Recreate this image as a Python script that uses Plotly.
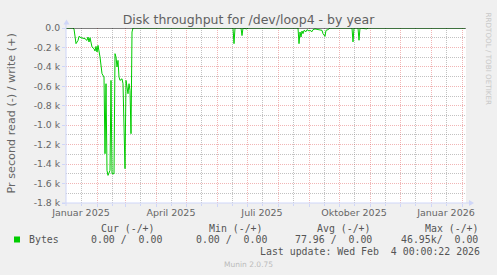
import plotly.graph_objects as go
import pandas as pd

# ---------------- data ----------------
read_dates = [
    "2025-01-01", "2025-01-08", "2025-01-09", "2025-01-11", "2025-01-13", "2025-01-14",
    "2025-01-16", "2025-01-18", "2025-01-20", "2025-01-22", "2025-01-23", "2025-01-24",
    "2025-01-25", "2025-01-27", "2025-01-29", "2025-01-30", "2025-01-31", "2025-02-01",
    "2025-02-02", "2025-02-04", "2025-02-05", "2025-02-06", "2025-02-08", "2025-02-09",
    "2025-02-10", "2025-02-11", "2025-02-12", "2025-02-13", "2025-02-14", "2025-02-15",
    "2025-02-16", "2025-02-18", "2025-02-19", "2025-02-20", "2025-02-21", "2025-02-22",
    "2025-02-23", "2025-02-24", "2025-02-26", "2025-02-27", "2025-03-01", "2025-03-02",
    "2025-03-03", "2025-03-04", "2025-03-05", "2025-03-06", "2025-03-07", "2025-03-08",
    "2025-03-09",
    "2025-06-17", "2025-06-18", "2025-06-19", "2025-06-25", "2025-06-26", "2025-06-27",
    "2025-07-01", "2025-07-02",
    "2025-08-21", "2025-08-22", "2025-08-23", "2025-08-24", "2025-08-25", "2025-08-26",
    "2025-08-27", "2025-08-29", "2025-08-30", "2025-09-01", "2025-09-02", "2025-09-04",
    "2025-09-05", "2025-09-07", "2025-09-11", "2025-09-14", "2025-09-15", "2025-09-17",
    "2025-09-18", "2025-09-20", "2025-09-22",
    "2025-10-14", "2025-10-15", "2025-10-16", "2025-10-20", "2025-10-21", "2025-10-22",
    "2025-10-29", "2025-10-30", "2026-02-04",
]
read_bytes = [
    0, 0, -10, -161, -128, -86,
    -100, -107, -110, -128, -93, -144,
    -100, -195, -213, -237, -189, -247,
    -179, -298, -401, -470, -504, -1293,
    -573, -1465, -1516, -1481, -1465, -539,
    -1499, -1499, -264, -298, -401, -333,
    -504, -539, -522, -573, -1447, -539,
    -590, -676, -573, -642, -1087, -41,
    0,
    0, -161, 0, 0, -78, 0,
    -10, 0,
    0, -161, -41, -93, -31, -58,
    -24, -38, -17, -31, -24, -38,
    -17, -10, -17, -24, -58, -86,
    -24, -17, 0,
    0, -143, 0, 0, -126, 0,
    -10, 0, 0,
]

y_tick_vals = [0, -200, -400, -600, -800, -1000, -1200, -1400, -1600, -1800]
y_tick_text = ["0.0", "-0.2 k", "-0.4 k", "-0.6 k", "-0.8 k", "-1.0 k",
               "-1.2 k", "-1.4 k", "-1.6 k", "-1.8 k"]
x_label_dates = ["2025-01-16", "2025-04-16", "2025-07-16", "2025-10-16", "2026-01-16"]
x_label_text = ["Januar 2025", "April 2025", "Juli 2025", "Oktober 2025", "Januar 2026"]

legend_headers = ["Cur (-/+)", "Min (-/+)", "Avg (-/+)", "Max (-/+)"]
legend_values = ["0.00 /  0.00", "0.00 /  0.00", "77.96 /  0.00", "46.95k/  0.00"]
series_name = "Bytes"

# ---------------- layout constants ----------------
W, H = 497, 275
L, R, T, B = 66, 31, 28, 72
PW, PH = W - L - R, H - T - B
X_RANGE = ["2025-01-01", "2026-02-05"]
Y_RANGE = [-1800, 0]

FONT = "DejaVu Sans"
MONO = "DejaVu Sans Mono"
TXT = "#666666"
AXIS = "#CFD6F8"
MGRID = "rgba(222,79,79,0.42)"
GRID = "rgba(143,143,143,0.55)"


def px(x):
    return (x - L) / PW


def py(y):
    return (H - B - y) / PH


major_x = [d.strftime("%Y-%m-%d") for d in pd.date_range("2025-02-01", "2026-02-01", freq="MS")]
minor_x = [(d + pd.Timedelta(days=15)).strftime("%Y-%m-%d")
           for d in pd.date_range("2025-01-01", "2026-01-01", freq="MS")]
minor_y = [-100 - 200 * i for i in range(9)]

fig = go.Figure()
fig.add_trace(go.Scatter(x=read_dates, y=read_bytes, mode="lines",
                         line=dict(color="#00CC00", width=1), showlegend=False,
                         hoverinfo="skip"))
# dummy trace for label axis
fig.add_trace(go.Scatter(x=X_RANGE, y=[None, None], xaxis="x2", showlegend=False,
                         hoverinfo="skip"))

fig.update_layout(
    width=W, height=H,
    margin=dict(l=L, r=R, t=T, b=B, pad=0),
    paper_bgcolor="#F0F0F0", plot_bgcolor="#FFFFFF",
    showlegend=False,
    font=dict(family=FONT, color=TXT, size=9.5),
    title=dict(text="Disk throughput for /dev/loop4 - by year",
               x=0.5, xref="container", xanchor="center",
               y=1 - 19.5 / H, yref="container", yanchor="middle",
               font=dict(family=FONT, size=12.5, color="#606060")),
    xaxis=dict(type="date", range=X_RANGE, showticklabels=False,
               tickvals=major_x, showgrid=True, gridcolor=MGRID, griddash="1px,1px",
               gridwidth=1, ticks="outside", ticklen=3, tickcolor=AXIS,
               showline=False, zeroline=False,
               minor=dict(tickvals=minor_x, showgrid=True, gridcolor=GRID,
                          griddash="1px,1px", ticks="outside", ticklen=2, tickcolor=AXIS)),
    xaxis2=dict(type="date", range=X_RANGE, overlaying="x", side="bottom", anchor="y",
                tickvals=x_label_dates, ticktext=x_label_text, showgrid=False,
                ticks="", zeroline=False, showline=False, ticklabelstandoff=2,
                tickfont=dict(family=FONT, size=9.5, color=TXT)),
    yaxis=dict(range=Y_RANGE, tickvals=y_tick_vals, ticktext=y_tick_text,
               showgrid=True, gridcolor=MGRID, griddash="1px,1px", gridwidth=1,
               ticks="outside", ticklen=3, tickcolor=AXIS, zeroline=False,
               showline=False, tickfont=dict(family=FONT, size=9.3, color=TXT),
               minor=dict(tickvals=minor_y, showgrid=True, gridcolor=GRID,
                          griddash="1px,1px", ticks="")),
)

shapes = []
# zero rule
shapes.append(dict(type="line", xref="paper", yref="y", x0=0, x1=1, y0=0, y1=0,
                   line=dict(color="#000000", width=1)))
# axes
shapes.append(dict(type="line", xref="paper", yref="paper", x0=0, x1=0,
                   y0=py(206), y1=py(22), line=dict(color=AXIS, width=1)))
shapes.append(dict(type="line", xref="paper", yref="paper", x0=px(62), x1=px(470),
                   y0=0, y1=0, line=dict(color=AXIS, width=1)))
# arrows
shapes.append(dict(type="path", xref="paper", yref="paper",
                   path=f"M {px(63.5)} {py(24.5)} L {px(66.5)} {py(19.5)} L {px(69.5)} {py(24.5)} Z",
                   fillcolor=AXIS, line=dict(width=0)))
shapes.append(dict(type="path", xref="paper", yref="paper",
                   path=f"M {px(469)} {py(200)} L {px(474)} {py(203)} L {px(469)} {py(206)} Z",
                   fillcolor=AXIS, line=dict(width=0)))
# legend colour box
shapes.append(dict(type="rect", xref="paper", yref="paper",
                   x0=px(14), x1=px(20), y0=py(242.5), y1=py(236.5),
                   fillcolor="#00CC00", line=dict(width=0)))
fig.update_layout(shapes=shapes)

ann = []


def nb(s):
    return s.replace(" ", "\u00a0")


def text(x, y, s, xanchor="left", size=9.9, family=MONO, color="#555555", angle=0):
    ann.append(dict(x=px(x), y=py(y), xref="paper", yref="paper", text=nb(s),
                    showarrow=False, xanchor=xanchor, yanchor="middle", textangle=angle,
                    font=dict(family=family, size=size, color=color)))


# y title
text(10.5, 114, "Pr second read (-) / write (+)", xanchor="center", size=11.2,
     family=FONT, color=TXT, angle=-90)
# watermark
text(488, 58.5, "RRDTOOL / TOBI OETIKER", xanchor="center", size=7.2,
     family=FONT, color="#C8C8C8", angle=90)

header_x = [98.7, 206.7, 315, 422.7]
value_x = [89, 194.3, 293.3, 399]
for hx, h in zip(header_x, legend_headers):
    text(hx, 228.3, h)
text(26.7, 239.3, series_name)
for vx, v in zip(value_x, legend_values):
    text(vx, 239.3, v)
text(482.3, 251, "Last update: Wed Feb  4 00:00:22 2026", xanchor="right")
text(248, 264, "Munin 2.0.75", xanchor="center", size=7.5, family=FONT, color="#BBBBBB")

fig.update_layout(annotations=ann)
fig.write_html("out.html")
